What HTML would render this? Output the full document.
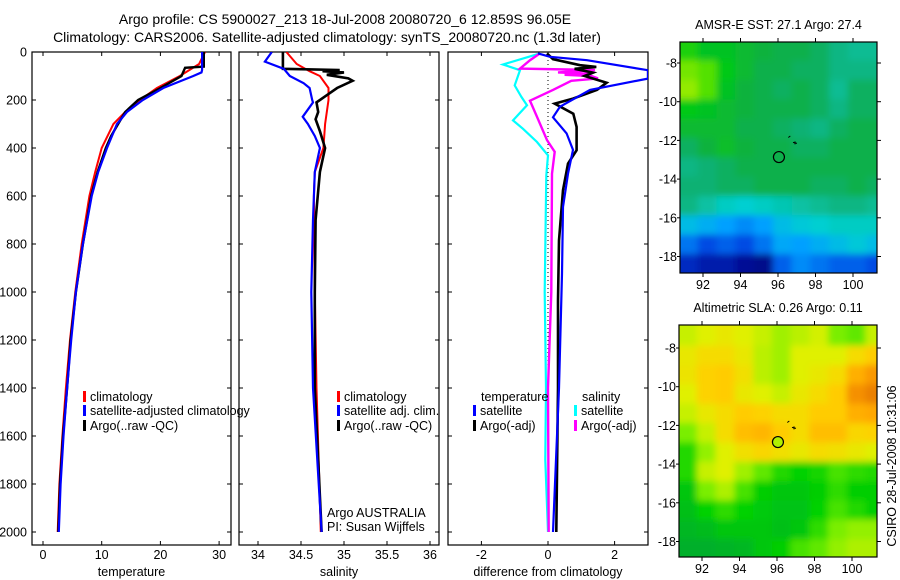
<!DOCTYPE html>
<html><head><meta charset="utf-8"><style>
body{margin:0;background:#fff}
svg{display:block;font-family:"Liberation Sans",sans-serif}
</style></head><body>
<svg id="chart" width="900" height="580" viewBox="0 0 900 580" xmlns="http://www.w3.org/2000/svg">
<defs>
<clipPath id="c1"><rect x="32" y="52" width="199" height="493"/></clipPath>
<clipPath id="c2"><rect x="239" y="52" width="200" height="493"/></clipPath>
<clipPath id="c3"><rect x="448" y="52" width="200" height="493"/></clipPath>
<clipPath id="m1"><rect x="680" y="42" width="197" height="231"/></clipPath>
<clipPath id="m2"><rect x="679" y="325" width="198" height="232"/></clipPath>
<filter id="bl" x="-10%" y="-10%" width="120%" height="120%"><feGaussianBlur stdDeviation="3.5"/></filter>
</defs>
<text x="345" y="24" font-size="14" text-anchor="middle">Argo profile: CS 5900027_213 18-Jul-2008 20080720_6 12.859S 96.05E</text>
<text x="327" y="42" font-size="14" text-anchor="middle">Climatology: CARS2006. Satellite-adjusted climatology: synTS_20080720.nc (1.3d later)</text>
<g id="g"></g>
</svg>
<script>
// ---------- Temperature panel data ----------
const tClimDepth=[0,50,100,150,200,250,300,400,500,600,800,1000,1200,1400,1600,1800,2000];
const tClim=[27.6,26.6,23.3,19.4,16.5,14.0,12.0,10.0,8.9,7.9,6.6,5.5,4.6,3.9,3.3,2.8,2.5];
const tSatDepth=[0,75,85,100,150,200,250,300,400,500,600,800,1000,1200,1400,1600,1800,2000];
const tSat=[27.1,27.1,27.0,25.6,20.5,17.0,14.3,12.6,10.9,9.4,8.3,6.8,5.6,4.8,4.1,3.5,3.0,2.7];
const tArgoDepth=[0,61,66,100,150,200,250,300,350,400,500,600,800,1000,1200,1400,1600,1800,2000];
const tArgo=[27.4,27.4,24.2,23.6,20.0,16.2,14.0,12.8,11.6,10.7,9.3,8.2,6.8,5.6,4.7,4.1,3.4,2.9,2.6];
// ---------- Salinity panel data ----------
const sClimDepth=[0,50,80,100,150,200,300,400,500,600,1000,1400,2000];
const sClim=[34.33,34.45,34.60,34.72,34.82,34.82,34.78,34.76,34.66,34.65,34.66,34.68,34.73];
const sSatDepth=[0,40,70,100,130,150,200,210,270,300,350,400,500,700,1000,1400,2000];
const sSat=[34.16,34.08,34.30,34.37,34.53,34.60,34.63,34.64,34.52,34.58,34.66,34.72,34.66,34.64,34.62,34.64,34.74];
const sArgoDepth=[0,70,75,80,85,95,110,120,150,180,210,250,280,330,400,500,700,1000,1400,2000];
const sArgo=[34.29,34.29,34.95,34.75,35.0,34.8,35.05,35.1,34.92,34.8,34.68,34.70,34.67,34.72,34.78,34.72,34.67,34.66,34.66,34.74];
// ---------- Difference panel data ----------
const dTSatDepth=[6,20,34,76,111,158,228,272,339,408,507,646,924,1400,2000];
const dTSat=[-0.3,0.06,1.17,3.0,3.0,1.26,0.36,0.15,0.56,0.75,0.6,0.45,0.42,0.33,0.15];
const dTArgoDepth=[6,30,55,62,70,86,100,128,158,194,215,257,312,409,465,576,785,1035,1400,2000];
const dTArgo=[-0.03,0.15,0.96,1.45,0.8,1.35,1.1,1.76,1.47,0.75,0.2,0.76,0.86,0.86,0.6,0.45,0.33,0.3,0.3,0.25];
const dSSatDepth=[6,52,76,139,187,222,285,320,375,431,514,1000,1400,1700,2000];
const dSSat=[-0.24,-1.35,-0.84,-1.0,-0.8,-0.63,-1.05,-0.75,-0.33,0.0,-0.05,-0.1,-0.06,-0.08,0.0];
const dSArgoDepth=[6,34,69,75,85,90,95,100,110,120,158,203,270,367,416,507,1000,1400,2000];
const dSArgo=[-0.24,-0.54,-0.84,1.41,0.3,1.2,0.5,1.3,1.5,0.7,0.15,-0.54,-0.33,-0.03,0.2,0.12,0.1,0.0,0.02];
// ---------- Map data ----------
const lonTicks=[92,94,96,98,100];
const latTicks=[-8,-10,-12,-14,-16,-18];
const depthTicks=[0,200,400,600,800,1000,1200,1400,1600,1800,2000];
const tempTicks=[0,10,20,30];
const salTicks=[34,34.5,35,35.5,36];
const diffTicks=[-2,0,2];
const sstTitle="AMSR-E SST: 27.1 Argo: 27.4";
const slaTitle="Altimetric SLA: 0.26 Argo: 0.11";
const sstGrid=[
[27.6,27.4,27.4,27.3,27.2,27.15,27.15,27.1,27.0,26.95,26.95],
[27.95,27.85,27.5,27.3,27.15,27.15,27.1,27.1,27.0,27.0,27.0],
[28.05,27.85,27.4,27.2,27.15,27.1,27.15,27.1,26.95,27.1,27.1],
[27.5,27.4,27.3,27.2,27.15,27.15,27.15,27.1,27.0,27.1,27.1],
[27.3,27.3,27.3,27.15,27.15,27.1,27.05,27.0,27.1,27.15,27.15],
[27.1,27.2,27.35,27.2,27.15,27.15,27.1,27.1,27.15,27.15,27.15],
[27.0,27.05,27.1,27.15,27.15,27.15,27.15,27.15,27.15,27.15,27.15],
[27.05,27.05,27.1,27.1,27.15,27.15,27.15,27.1,27.1,27.15,27.1],
[27.0,26.9,26.8,26.75,26.8,26.85,26.9,26.95,27.0,27.0,26.95],
[26.6,26.5,26.4,26.3,26.4,26.6,26.7,26.75,26.8,26.8,26.8],
[26.2,26.0,26.1,26.0,26.2,26.45,26.4,26.5,26.6,26.7,26.6],
[25.8,25.7,25.7,25.6,25.55,26.1,26.3,26.2,26.1,26.1,26.0]];
const slaGrid=[
[0.18,0.2,0.22,0.2,0.18,0.15,0.17,0.19,0.12,0.1,0.18],
[0.22,0.25,0.25,0.22,0.17,0.15,0.2,0.2,0.2,0.25,0.28],
[0.23,0.27,0.28,0.24,0.17,0.15,0.2,0.22,0.25,0.32,0.35],
[0.2,0.27,0.28,0.22,0.2,0.18,0.22,0.25,0.28,0.36,0.38],
[0.18,0.22,0.25,0.28,0.27,0.25,0.25,0.28,0.28,0.32,0.33],
[0.12,0.18,0.25,0.3,0.31,0.28,0.25,0.3,0.3,0.26,0.27],
[0.05,0.14,0.2,0.24,0.26,0.24,0.22,0.25,0.24,0.22,0.2],
[0.05,0.18,0.2,0.15,0.1,0.05,0.03,0.04,0.08,0.06,0.05],
[0.0,0.12,0.16,0.08,0.02,0.0,0.0,0.02,0.06,0.02,0.02],
[-0.02,0.03,0.06,0.03,0.01,-0.01,-0.01,0.03,0.08,0.05,0.02],
[-0.04,-0.03,0.0,0.0,0.0,-0.02,0.0,0.06,0.12,0.14,0.14],
[-0.06,-0.06,-0.05,-0.04,0.0,0.02,0.08,0.1,0.14,0.16,0.16]];
const profileLon=96.05, profileLat=-12.86;

const NS="http://www.w3.org/2000/svg";
const G=document.getElementById('g');
function mk(tag,attrs,parent){const e=document.createElementNS(NS,tag);for(const k in attrs)e.setAttribute(k,attrs[k]);(parent||G).appendChild(e);return e;}
function txt(x,y,s,size,anchor,parent){const t=mk('text',{x:x,y:y,'font-size':size,'text-anchor':anchor||'start'},parent);t.textContent=s;return t;}

const yD=d=>52+d*0.24;
const xT=t=>43+t*5.87;
const xS=s=>258+(s-34)*86;
const xDf=v=>548+v*33.3;

function panel(x0,w,xf,xt,label,name){
  const g=mk('g',{});
  
  
  mk('rect',{x:x0,y:52,width:w,height:493,fill:'none',stroke:'#000','stroke-width':1.2},g);
  depthTicks.forEach(d=>{
    mk('line',{x1:x0,x2:x0+4,y1:yD(d),y2:yD(d),stroke:'#000'},g);
    mk('line',{x1:x0+w-4,x2:x0+w,y1:yD(d),y2:yD(d),stroke:'#000'},g);
  });
  xt.forEach(v=>{
    mk('line',{x1:xf(v),x2:xf(v),y1:52,y2:56,stroke:'#000'},g);
    mk('line',{x1:xf(v),x2:xf(v),y1:541,y2:545,stroke:'#000'},g);
    const l=txt(xf(v),559,String(v),12.5,'middle',g);
    
    
  });
  const al=txt(x0+w/2,576,label,12.5,'middle',g);
  
  
}
function series(xs,ds,xf,color,sw,clip,name){
  let p='';
  for(let i=0;i<xs.length;i++){
    p+=(i?'L':'M')+xf(xs[i]).toFixed(1)+','+yD(ds[i]).toFixed(1);
  }
  const e=mk('path',{d:p,fill:'none',stroke:color,'stroke-width':sw,'clip-path':'url(#'+clip+')'});
  
  
}
depthTicks.forEach(d=>{
  const l=txt(27,yD(d)+4.5,String(d),12.5,'end');
  
  
});
panel(32,199,xT,tempTicks,'temperature','temperature-panel');
panel(239,200,xS,salTicks,'salinity','salinity-panel');
panel(448,200,xDf,diffTicks,'difference from climatology','difference-panel');
const zl=mk('line',{x1:xDf(0),x2:xDf(0),y1:yD(0),y2:yD(2000),stroke:'#000','stroke-dasharray':'1,3'});



series(tClim,tClimDepth,xT,'#f00',2,'c1','temperature-climatology-line');
series(tArgo,tArgoDepth,xT,'#000',2.4,'c1','temperature-argo-line');
series(tSat,tSatDepth,xT,'#00f',2.2,'c1','temperature-satellite-line');
series(sClim,sClimDepth,xS,'#f00',2,'c2','salinity-climatology-line');
series(sArgo,sArgoDepth,xS,'#000',2.6,'c2','salinity-argo-line');
series(sSat,sSatDepth,xS,'#00f',2.2,'c2','salinity-satellite-line');
series(dSSat,dSSatDepth,xDf,'#00ffff',2.2,'c3','diff-salinity-satellite-line');
series(dSArgo,dSArgoDepth,xDf,'#ff00ff',2.4,'c3','diff-salinity-argo-line');
series(dTArgo,dTArgoDepth,xDf,'#000',2.6,'c3','diff-temperature-argo-line');
series(dTSat,dTSatDepth,xDf,'#00f',2.2,'c3','diff-temperature-satellite-line');

function legend(x,y,color,label,name){
  const g=mk('g',{});
  
  
  if(color) mk('rect',{x:x,y:y-10,width:3,height:11,fill:color},g);
  txt(x+7,y,label,12.5,'start',g);
}
legend(83,401,'#f00','climatology','legend-climatology');
legend(83,415,'#00f','satellite-adjusted climatology','legend-satellite-adjusted');
legend(83,430,'#000','Argo(..raw -QC)','legend-argo');
legend(337,401,'#f00','climatology','legend-sal-climatology');
legend(337,415,'#00f','satellite adj. clim.','legend-sal-satellite');
legend(337,430,'#000','Argo(..raw -QC)','legend-sal-argo');
const a1=txt(327,517,'Argo AUSTRALIA',12.5,'start');


const a2=txt(327,531,'PI: Susan Wijffels',12.5,'start');


const lt=txt(481,401,'temperature',12.5,'start');


const ls=txt(582,401,'salinity',12.5,'start');


legend(473,415,'#00f','satellite','legend-temp-satellite');
legend(473,430,'#000','Argo(-adj)','legend-temp-argo');
legend(574,415,'#00ffff','satellite','legend-sal-sat');
legend(574,430,'#ff00ff','Argo(-adj)','legend-sal-argo-adj');

// ---------- maps ----------
function hex(h){return [parseInt(h.substr(1,2),16),parseInt(h.substr(3,2),16),parseInt(h.substr(5,2),16)];}
function cmap(stops,t){
  t=Math.max(0,Math.min(1,t));
  for(let i=1;i<stops.length;i++){
    if(t<=stops[i][0]){
      const a=stops[i-1],b=stops[i],f=(t-a[0])/(b[0]-a[0]);
      const ca=hex(a[1]),cb=hex(b[1]);
      return 'rgb('+ca.map((v,k)=>Math.round(v+(cb[k]-v)*f)).join(',')+')';
    }
  }
  return stops[stops.length-1][1];
}
const sstStops=[[0,'#000080'],[0.15,'#0040e0'],[0.3,'#00a0ff'],[0.42,'#00d0d0'],[0.52,'#10b070'],[0.56,'#10b040'],[0.66,'#00c818'],[0.78,'#50e000'],[0.88,'#b0f000'],[1,'#ffff00']];
const slaStops=[[0,'#00a040'],[0.25,'#00d000'],[0.45,'#80f000'],[0.6,'#e0f000'],[0.75,'#ffd000'],[0.88,'#ffa000'],[1,'#e07000']];

function map(grid,stops,vmin,vmax,x0,y0,w,h,lat8y,clip,title,name,circleFill){
  const g=mk('g',{});
  
  
  const pxDegX=18.75, pxDegY=19.35;
  const xL=lon=>703+(lon-92)*pxDegX+(x0-680);
  const yL=lat=>lat8y+(-8-lat)*pxDegY;
  const cells=mk('g',{'clip-path':'url(#'+clip+')'},g);
  const inner=mk('g',{filter:'url(#bl)'},cells);
  const lon0=90.75, lat0=-6.9;
  const R=grid.length, C=grid[0].length;
  for(let r=-1;r<=R;r++)for(let c=-1;c<=C;c++){
    const rr=Math.max(0,Math.min(R-1,r)), cc=Math.max(0,Math.min(C-1,c));
    const cell=mk('rect',{x:xL(lon0+c)-0.5,y:yL(lat0-r)-0.5,width:pxDegX+1,height:pxDegY+1,fill:cmap(stops,(grid[rr][cc]-vmin)/(vmax-vmin))},inner);
    
    
  }
  mk('rect',{x:x0,y:y0,width:w,height:h,fill:'none',stroke:'#000','stroke-width':1.2},g);
  lonTicks.forEach(l=>{
    mk('line',{x1:xL(l),x2:xL(l),y1:y0,y2:y0-4,stroke:'#000'},g);
    mk('line',{x1:xL(l),x2:xL(l),y1:y0+h,y2:y0+h+4,stroke:'#000'},g);
    txt(xL(l),y0+h+16,String(l),12.5,'middle',g);
  });
  latTicks.forEach(l=>{
    mk('line',{x1:x0+w,x2:x0+w+4,y1:yL(l),y2:yL(l),stroke:'#000'},g);
    mk('line',{x1:x0,x2:x0-3,y1:yL(l),y2:yL(l),stroke:'#000'},g);
    txt(x0-3,yL(l)+4.5,String(l),12.5,'end',g);
  });
  const t=txt(x0+w/2,y0-13,title,12.5,'middle',g);
  
  
  const c=mk('circle',{cx:xL(profileLon),cy:yL(profileLat),r:5.5,fill:circleFill,stroke:'#000','stroke-width':1.2},g);
  
  
  mk('path',{d:'M'+xL(96.55)+','+yL(-11.85)+'l2,-1.5 M'+xL(96.8)+','+yL(-12.1)+'l4,1 m-2,-2 v3',stroke:'#000','stroke-width':1,fill:'none'},g);
}
map(sstGrid,sstStops,25.5,28.5,680,42,197,231,63,'m1',sstTitle,'sst-map','none');
map(slaGrid,slaStops,-0.1,0.4,679,325,198,232,348,'m2',slaTitle,'sla-map','#b0f000');
const cs=txt(0,0,'CSIRO 28-Jul-2008 10:31:06',12.5,'middle');
cs.setAttribute('transform','translate(896,466) rotate(-90)');


</script>
</body></html>
